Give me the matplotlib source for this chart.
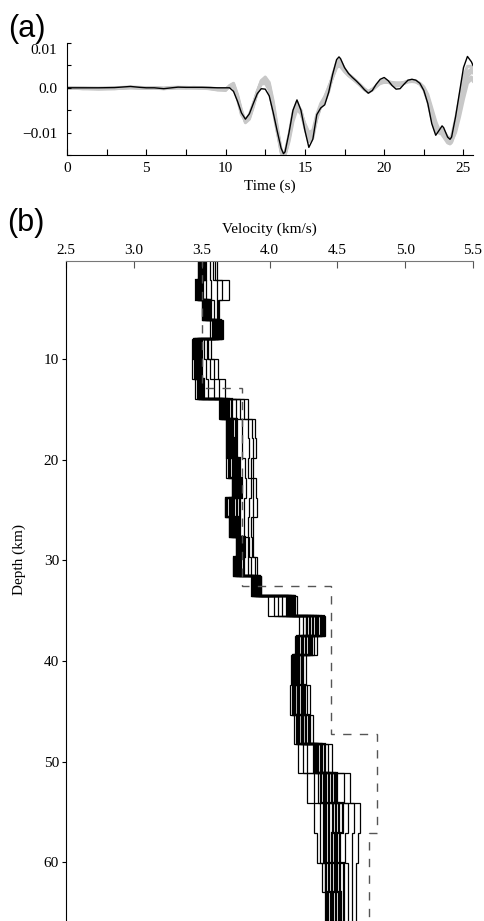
import numpy as np
import matplotlib
matplotlib.use('Agg')
import matplotlib.pyplot as plt
import matplotlib.ticker as ticker
import matplotlib.transforms as mtransforms

plt.rc('font', family='serif', serif=['Liberation Serif', 'DejaVu Serif'])
plt.rc('axes', unicode_minus=True)

# ---- (a) waveform fit, amplitudes in units of 1e-3 ----
time_s = [0, 1, 2, 3, 4, 4.6, 5, 5.5, 6.1, 6.6, 7, 7.5, 8, 8.5, 9, 9.5,
          10, 10.25, 10.5, 10.75, 11, 11.25, 11.5, 11.75, 12, 12.25, 12.5, 12.75,
          13, 13.25, 13.5, 13.65, 13.75, 14, 14.25, 14.5, 14.75, 15, 15.25, 15.5,
          15.75, 16, 16.25, 16.5, 16.75, 17, 17.15, 17.25, 17.5, 17.75, 18, 18.25,
          18.5, 18.75, 19, 19.25, 19.5, 19.75, 20, 20.25, 20.5, 20.75, 21, 21.25,
          21.5, 21.75, 22, 22.25, 22.5, 22.75, 23, 23.25, 23.5, 23.65, 23.75, 24,
          24.15, 24.25, 24.5, 24.75, 25, 25.25, 25.5, 25.6]

observed = [0, 0, 0, 0.05, 0.3, 0.1, 0, 0, -0.2, 0, 0.15, 0.1, 0.1, 0.1, 0.05, 0,
            0, 0, -0.8, -3.0, -5.6, -7.0, -5.8, -3.5, -1.3, -0.2, -0.3, -1.8,
            -5.5, -9.6, -13.5, -14.7, -14.3, -10.0, -5.0, -2.7, -5.0, -9.5, -13.3, -11.5,
            -6.0, -4.5, -3.8, -1.0, 3.0, 6.3, 6.9, 6.5, 4.5, 3.2, 2.3, 1.5,
            0.6, -0.4, -1.2, -0.6, 0.8, 1.9, 2.3, 1.6, 0.5, -0.3, -0.2, 0.8,
            1.7, 1.9, 1.7, 1.0, -0.6, -3.5, -8.0, -10.6, -9.3, -8.5, -8.9, -11.0,
            -11.5, -11.0, -6.5, -1.0, 4.5, 7.0, 5.8, 5.0]

syn1 = [0, -0.2, -0.2, -0.1, 0.1, 0, -0.1, 0, -0.2, 0, 0.1, 0, 0, 0, -0.1, -0.3,
        -0.4, 0.3, 0.6, -2.0, -5.5, -7.5, -6.5, -3.8, -0.8, 1.2, 1.6, 0.0,
        -4.5, -9.5, -14.0, -15.0, -14.8, -11.0, -6.0, -3.8, -5.0, -8.5, -11.0, -10.5,
        -6.5, -4.0, -2.8, -0.5, 2.5, 5.0, 5.5, 5.3, 4.0, 3.0, 2.2, 1.4,
        0.6, -0.3, -0.9, -0.5, 0.3, 1.0, 1.2, 1.2, 1.0, 0.8, 0.8, 1.0,
        1.3, 1.4, 1.3, 0.8, -0.3, -2.5, -6.0, -8.8, -10.0, -10.2, -10.5, -11.5,
        -11.8, -11.5, -8.5, -4.5, -0.5, 2.5, 3.5, 3.3]
syn2 = [0, -0.1, -0.3, -0.2, 0, -0.1, -0.1, 0, -0.1, 0, 0, 0, 0, -0.1, -0.2, -0.4,
        -0.6, 0.5, 1.0, -1.5, -5.0, -7.8, -7.0, -4.2, -1.0, 1.5, 2.2, 0.8,
        -3.5, -9.0, -14.5, -15.5, -15.0, -11.5, -7.0, -4.5, -5.5, -8.0, -10.0, -9.5,
        -6.0, -3.5, -2.0, 0.0, 2.5, 4.8, 5.2, 5.0, 3.8, 2.8, 2.0, 1.3,
        0.5, -0.4, -1.0, -0.4, 0.4, 1.2, 1.5, 1.4, 1.1, 1.0, 1.0, 1.2,
        1.5, 1.6, 1.4, 0.9, 0.0, -2.0, -5.0, -8.0, -9.5, -10.0, -10.6, -12.0,
        -12.5, -12.2, -9.5, -5.5, -1.5, 1.8, 2.4, 2.0]
syn3 = [0, 0, -0.1, 0, 0.2, 0.1, 0, 0, -0.1, 0.1, 0.1, 0.1, 0, 0, 0, -0.2,
        -0.2, 0.2, 0.2, -2.5, -6.0, -7.3, -6.0, -3.5, -1.0, 0.8, 1.0, -0.5,
        -5.0, -9.8, -14.2, -15.2, -14.6, -10.5, -5.5, -3.2, -5.2, -9.0, -12.0, -11.0,
        -6.2, -4.2, -3.0, -0.8, 2.8, 5.6, 6.2, 5.9, 4.2, 3.0, 2.3, 1.5,
        0.6, -0.3, -1.0, -0.5, 0.5, 1.4, 1.7, 1.3, 0.7, 0.4, 0.5, 1.0,
        1.5, 1.7, 1.5, 0.9, -0.4, -3.0, -7.0, -9.8, -9.4, -9.2, -9.6, -11.0,
        -11.2, -10.8, -7.0, -2.5, 2.5, 4.8, 4.8, 4.2]
syn4 = [0, -0.2, -0.2, -0.2, 0, 0, -0.1, -0.1, -0.2, -0.1, 0, 0, 0.1, 0, -0.2, -0.5,
        -0.5, 0.4, 0.9, -1.8, -5.2, -7.6, -6.8, -4.0, -0.8, 1.6, 2.4, 1.2,
        -3.0, -8.5, -14.0, -15.3, -15.0, -12.0, -7.5, -4.8, -5.8, -8.2, -10.5, -10.2,
        -7.0, -4.0, -2.2, 0.2, 2.3, 4.5, 4.9, 4.7, 3.6, 2.7, 2.1, 1.3,
        0.5, -0.4, -0.8, -0.3, 0.4, 1.0, 1.3, 1.3, 1.2, 1.1, 1.1, 1.2,
        1.4, 1.5, 1.4, 1.0, 0.2, -1.5, -4.5, -7.5, -9.8, -10.5, -11.0, -12.3,
        -12.5, -12.0, -10.0, -6.5, -2.5, 1.0, 2.0, 1.5]
syn5 = [0, -0.1, -0.1, 0, 0.1, 0, 0, 0, -0.1, 0, 0, 0, 0, 0, -0.1, -0.3,
        -0.3, 0.3, 0.5, -2.2, -5.8, -7.2, -6.2, -3.6, -1.0, 1.0, 1.3, -0.2,
        -4.8, -9.2, -13.8, -14.8, -14.5, -10.8, -6.2, -4.0, -5.2, -8.8, -11.5, -11.2,
        -6.8, -4.2, -2.6, -0.4, 2.7, 5.2, 5.8, 5.6, 4.1, 3.0, 2.2, 1.4,
        0.6, -0.2, -0.9, -0.4, 0.3, 1.1, 1.4, 1.3, 1.0, 0.7, 0.7, 1.0,
        1.4, 1.6, 1.4, 0.9, -0.2, -2.8, -6.5, -9.5, -10.2, -10.0, -10.2, -11.8,
        -12.2, -11.6, -8.0, -3.5, 1.0, 3.5, 4.2, 3.8]

# ---- (b) velocity models (layer edges, km) ----
depth_edges = [0, 2.15, 4.15, 6.1, 8.0, 10.0, 12.0, 14.0, 15.95, 17.85, 19.85, 21.85, 23.8,
               25.7, 27.7, 29.7, 31.55, 33.55, 35.55, 37.55, 39.4, 42.4, 45.4, 48.3, 51.15,
               54.15, 57.1, 60.1, 63.0, 67.0]

m01 = [3.48, 3.46, 3.51, 3.58, 3.44, 3.45, 3.47, 3.64, 3.69, 3.69, 3.70, 3.73, 3.68, 3.71, 3.76,
       3.74, 3.87, 4.13, 4.28, 4.20, 4.17, 4.17, 4.20, 4.33, 4.38, 4.40, 4.40, 4.42, 4.43]
m02 = [3.49, 3.47, 3.52, 3.59, 3.45, 3.46, 3.48, 3.65, 3.70, 3.70, 3.71, 3.74, 3.69, 3.72, 3.77,
       3.75, 3.88, 4.14, 4.30, 4.22, 4.18, 4.18, 4.21, 4.34, 4.40, 4.42, 4.42, 4.44, 4.45]
m03 = [3.49, 3.48, 3.53, 3.60, 3.46, 3.46, 3.49, 3.66, 3.71, 3.71, 3.73, 3.75, 3.71, 3.73, 3.78,
       3.76, 3.89, 4.15, 4.32, 4.24, 4.19, 4.19, 4.22, 4.35, 4.42, 4.44, 4.44, 4.46, 4.47]
m04 = [3.50, 3.48, 3.54, 3.61, 3.47, 3.47, 3.49, 3.67, 3.72, 3.72, 3.74, 3.76, 3.72, 3.74, 3.79,
       3.77, 3.90, 4.16, 4.34, 4.25, 4.20, 4.21, 4.24, 4.36, 4.44, 4.47, 4.46, 4.48, 4.49]
m05 = [3.51, 3.49, 3.55, 3.62, 3.48, 3.48, 3.50, 3.69, 3.73, 3.74, 3.75, 3.77, 3.74, 3.75, 3.80,
       3.78, 3.91, 4.17, 4.36, 4.27, 4.21, 4.22, 4.25, 4.38, 4.46, 4.49, 4.48, 4.50, 4.51]
m06 = [3.52, 3.50, 3.56, 3.63, 3.49, 3.49, 3.51, 3.70, 3.75, 3.75, 3.77, 3.78, 3.76, 3.77, 3.81,
       3.79, 3.92, 4.18, 4.38, 4.29, 4.22, 4.24, 4.27, 4.39, 4.48, 4.51, 4.50, 4.52, 4.53]
m07 = [3.53, 3.51, 3.57, 3.64, 3.50, 3.50, 3.52, 3.72, 3.76, 3.76, 3.78, 3.80, 3.78, 3.78, 3.82,
       3.81, 3.93, 4.19, 4.40, 4.31, 4.24, 4.26, 4.29, 4.41, 4.50, 4.54, 4.52, 4.55, 4.55]
m08 = [3.47, 3.53, 3.50, 3.56, 3.43, 3.43, 3.45, 3.63, 3.68, 3.68, 3.68, 3.72, 3.67, 3.70, 3.75,
       3.73, 3.87, 3.99, 4.22, 4.19, 4.16, 4.15, 4.18, 4.21, 4.28, 4.33, 4.35, 4.39, 4.41]
m09 = [3.56, 3.57, 3.59, 3.65, 3.52, 3.53, 3.55, 3.75, 3.80, 3.80, 3.82, 3.83, 3.81, 3.81, 3.84,
       3.84, 3.94, 4.20, 4.41, 4.35, 4.27, 4.30, 4.32, 4.46, 4.59, 4.67, 4.65, 4.64, 4.64]
m10 = [3.58, 3.61, 3.61, 3.60, 3.54, 3.56, 3.59, 3.78, 3.84, 3.85, 3.84, 3.86, 3.85, 3.84, 3.85,
       3.86, 3.90, 4.03, 4.25, 4.33, 4.25, 4.28, 4.30, 4.25, 4.33, 4.37, 4.37, 4.41, 4.42]
m11 = [3.60, 3.65, 3.62, 3.62, 3.55, 3.59, 3.63, 3.81, 3.87, 3.88, 3.86, 3.88, 3.88, 3.86, 3.87,
       3.89, 3.92, 4.06, 4.27, 4.21, 4.18, 4.20, 4.22, 4.28, 4.36, 4.58, 4.56, 4.58, 4.58]
m12 = [3.61, 3.70, 3.63, 3.66, 3.57, 3.62, 3.67, 3.84, 3.89, 3.90, 3.88, 3.90, 3.91, 3.88, 3.88,
       3.91, 3.94, 4.09, 4.39, 4.30, 4.23, 4.25, 4.26, 4.43, 4.55, 4.62, 4.61, 4.61, 4.61]
dense_models = [m01, m02, m03, m04, m05, m06, m07]
outer_models = [m08, m09, m10, m11, m12]

ref_vel = [3.50, 3.80, 4.45, 4.79, 4.73]
ref_edges = [0, 12.9, 32.55, 47.3, 57.1, 67.0]

fig = plt.figure(figsize=(4.84, 9.21), dpi=100)

# ---------------- panel (a)
ax = fig.add_axes([67/484, 766/921, 406/484, 112/921])
t = np.array(time_s)
for s in [syn1, syn2, syn3, syn4, syn5]:
    ax.plot(t, np.array(s)*1e-3, color='#c8c8c8', lw=2.2, zorder=1)
ax.plot(t, np.array(observed)*1e-3, color='k', lw=1.0, zorder=3)
ax.set_xlim(0, 25.6)
ax.set_ylim(-0.015, 0.01)
ax.spines['top'].set_visible(False)
ax.spines['right'].set_visible(False)
ax.xaxis.set_major_locator(ticker.MultipleLocator(5))
ax.xaxis.set_minor_locator(ticker.MultipleLocator(2.5))
ax.yaxis.set_major_locator(ticker.FixedLocator([-0.01, 0, 0.01]))
ax.yaxis.set_major_formatter(ticker.FixedFormatter(['\u22120.01', '0.0', '0.01']))
ax.yaxis.set_minor_locator(ticker.MultipleLocator(0.005))
ax.tick_params(axis='x', which='both', direction='in', length=4, width=0.8, labelsize=11, pad=5)
ax.tick_params(axis='y', which='both', direction='in', length=3, width=0.8, labelsize=11, pad=7)
ax.set_xlabel('Time (s)', fontsize=11, labelpad=3)
# top label sits a little below its tick, as in the original
top_tick = ax.yaxis.get_major_ticks()[2]
top_tick.label1.set_transform(top_tick.label1.get_transform() +
                              mtransforms.ScaledTranslation(0, -6/100, fig.dpi_scale_trans))

# ---------------- panel (b)
bx = fig.add_axes([66/484, 0, 407/484, 660/921])
for m in outer_models:
    bx.stairs(m, depth_edges, orientation='horizontal', baseline=None, color='k', lw=0.9)
for m in dense_models:
    bx.stairs(m, depth_edges, orientation='horizontal', baseline=None, color='k', lw=1.6)
bx.stairs(ref_vel, ref_edges, orientation='horizontal', baseline=None,
          color='#555555', lw=1.0, linestyle=(0, (6, 6)))
bx.set_xlim(2.5, 5.5)
bx.set_ylim(65.85, 0.25)
bx.xaxis.tick_top()
bx.xaxis.set_label_position('top')
bx.xaxis.set_major_locator(ticker.MultipleLocator(0.5))
bx.xaxis.set_major_formatter(ticker.FormatStrFormatter('%.1f'))
bx.set_yticks([10, 20, 30, 40, 50, 60])
bx.spines['right'].set_visible(False)
bx.spines['bottom'].set_visible(False)
bx.spines['top'].set_color('#777777')
bx.tick_params(axis='x', direction='in', length=5, width=0.8, labelsize=11, pad=3, color='#555555')
bx.tick_params(axis='y', direction='out', length=3, width=0.8, labelsize=11, pad=2)
bx.set_xlabel('Velocity (km/s)', fontsize=11, labelpad=8)
bx.set_ylabel('Depth (km)', fontsize=11)
bx.yaxis.set_label_coords(-0.098, 0.547)

fig.text(8/484, 1 - 14/921, '(a)', family='Liberation Sans', fontsize=22, va='top', ha='left')
fig.text(7/484, 1 - 208/921, '(b)', family='Liberation Sans', fontsize=22, va='top', ha='left')

fig.savefig('out.png', dpi=100)
